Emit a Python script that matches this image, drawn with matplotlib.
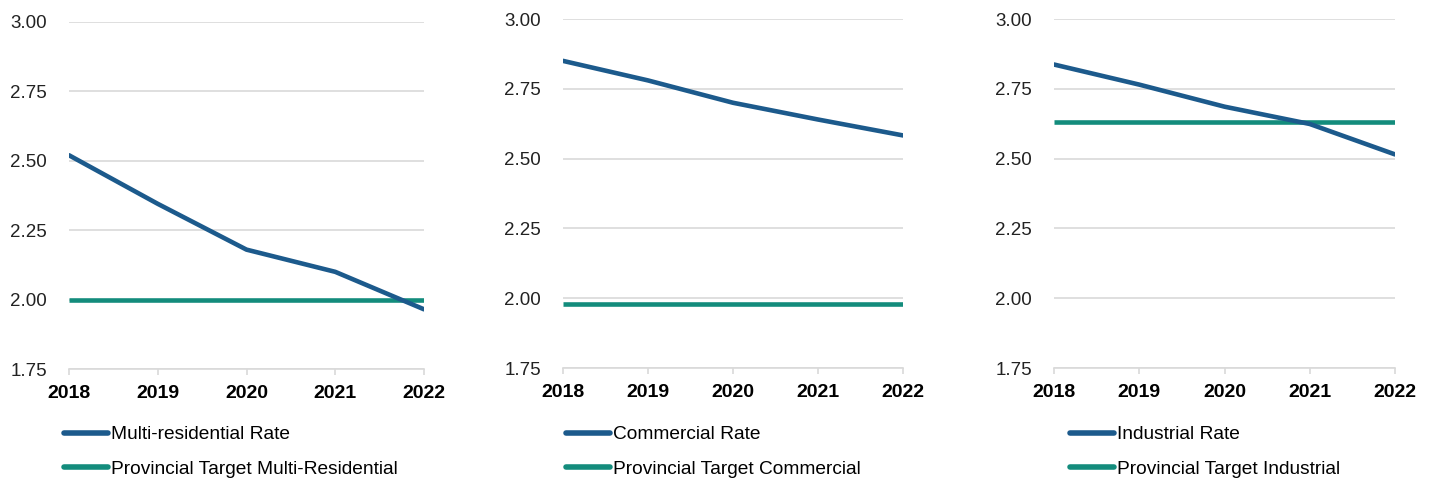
import matplotlib
matplotlib.use('Agg')
import matplotlib.pyplot as plt

plt.rcParams['font.family'] = ['Liberation Sans', 'DejaVu Sans']

# Colors
BLUE = '#1c5a8c'
TEAL = '#138c7c'
GRID = '#d9d9d9'

# Data
years = [2018, 2019, 2020, 2021, 2022]

multi_res_rate = [2.52, 2.345, 2.18, 2.10, 1.965]
multi_res_target = [2.00, 2.00, 2.00, 2.00, 2.00]

commercial_rate = [2.85, 2.78, 2.70, 2.64, 2.583]
commercial_target = [1.98, 1.98, 1.98, 1.98, 1.98]

industrial_rate = [2.837, 2.765, 2.686, 2.624, 2.515]
industrial_target = [2.63, 2.63, 2.63, 2.63, 2.63]

rate_labels = ['Multi-residential Rate', 'Commercial Rate', 'Industrial Rate']
target_labels = ['Provincial Target Multi-Residential',
                 'Provincial Target Commercial',
                 'Provincial Target Industrial']

y_ticks = [1.75, 2.00, 2.25, 2.50, 2.75, 3.00]

W, H = 1433, 478
fig = plt.figure(figsize=(W / 100, H / 100), dpi=100)

# axes boxes in pixels: (left, right, top, bottom)
boxes = [(69, 424, 22, 369), (563, 903, 19, 368), (1054, 1395, 19, 368)]
legend_x = [64, 566, 1070]

panels = [(multi_res_rate, multi_res_target),
          (commercial_rate, commercial_target),
          (industrial_rate, industrial_target)]

for i, (rate, target) in enumerate(panels):
    l, r, t, b = boxes[i]
    ax = fig.add_axes([l / W, 1 - b / H, (r - l) / W, (b - t) / H])
    ax.plot(years, rate, color=BLUE, lw=3.3, label=rate_labels[i],
            solid_capstyle='round', zorder=3)
    ax.plot(years, target, color=TEAL, lw=3.3, label=target_labels[i],
            solid_capstyle='butt', zorder=2)

    ax.set_xlim(2018, 2022)
    ax.set_ylim(1.75, 3.0)
    ax.set_xticks(years)
    ax.set_yticks(y_ticks)
    ax.set_yticklabels([f'{v:.2f}' for v in y_ticks], fontsize=13.5, color='#222222')
    ax.set_xticklabels([str(y) for y in years], fontsize=14, fontweight='bold')

    for s in ['top', 'right', 'left']:
        ax.spines[s].set_visible(False)
    ax.spines['bottom'].set_color(GRID)
    ax.spines['bottom'].set_linewidth(1.2)
    ax.grid(axis='y', color=GRID, lw=1.2, zorder=0)
    ax.tick_params(axis='y', length=0, pad=16)
    ax.tick_params(axis='x', length=4, width=1.2, color=GRID, pad=7.5)
    ax.set_axisbelow(True)

    leg = ax.legend(loc='upper left', bbox_to_anchor=(legend_x[i] / W, 1 - 426 / H),
                    bbox_transform=fig.transFigure, frameon=False, fontsize=13.8,
                    handlelength=2.3, handletextpad=0.15, labelspacing=0.88,
                    borderpad=0, borderaxespad=0)
    for h in leg.get_lines():
        h.set_linewidth(4)
        h.set_solid_capstyle('round')

fig.savefig('out.png', dpi=100)
